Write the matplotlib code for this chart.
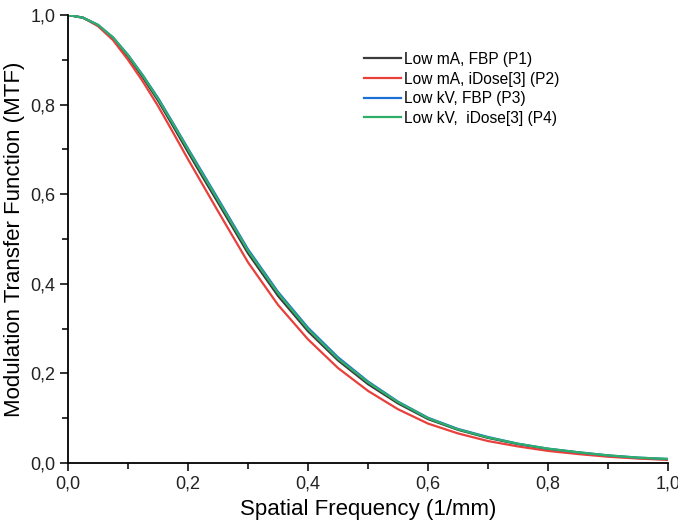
import matplotlib
matplotlib.use('Agg')
import matplotlib.pyplot as plt
from matplotlib.ticker import FuncFormatter, MultipleLocator

plt.rcParams['font.family'] = ['Liberation Sans', 'DejaVu Sans']

# spatial frequency (1/mm)
freq = [0.0, 0.025, 0.05, 0.075, 0.1, 0.125, 0.15, 0.175, 0.2, 0.225, 0.25, 0.3, 0.35, 0.4, 0.45, 0.5,
        0.55, 0.6, 0.65, 0.7, 0.75, 0.8, 0.85, 0.9, 0.95, 1.0]

# MTF values
mtf_p1 = [1.0, 0.994, 0.977, 0.948, 0.907, 0.860, 0.809, 0.752, 0.694, 0.637, 0.581, 0.468, 0.373, 0.294, 0.229, 0.176,
          0.133, 0.098, 0.074, 0.056, 0.042, 0.031, 0.023, 0.016, 0.011, 0.008]
mtf_p2 = [1.0, 0.994, 0.975, 0.944, 0.900, 0.851, 0.797, 0.738, 0.678, 0.620, 0.562, 0.448, 0.353, 0.276, 0.212, 0.161,
          0.120, 0.088, 0.066, 0.049, 0.037, 0.027, 0.020, 0.014, 0.010, 0.007]
mtf_p3 = [1.0, 0.994, 0.978, 0.950, 0.911, 0.865, 0.815, 0.759, 0.702, 0.646, 0.590, 0.477, 0.382, 0.302, 0.236, 0.182,
          0.137, 0.101, 0.076, 0.058, 0.043, 0.032, 0.024, 0.017, 0.012, 0.009]
mtf_p4 = [1.0, 0.994, 0.978, 0.950, 0.910, 0.864, 0.813, 0.757, 0.700, 0.643, 0.587, 0.474, 0.379, 0.299, 0.233, 0.180,
          0.136, 0.100, 0.075, 0.057, 0.043, 0.032, 0.024, 0.017, 0.012, 0.009]

labels = ['Low mA, FBP (P1)', 'Low mA, iDose[3] (P2)', 'Low kV, FBP (P3)', 'Low kV,  iDose[3] (P4)']
colors = ['#3c3c3c', '#e8403a', '#1c6fd4', '#2fae6a']

fig = plt.figure(figsize=(6.78, 5.22), dpi=100)
ax = fig.add_axes([68/678, 59/522, 600/678, 448/522])

for ys, lab, col in zip([mtf_p1, mtf_p2, mtf_p3, mtf_p4], labels, colors):
    ax.plot(freq, ys, color=col, lw=1.6, label=lab)

ax.set_xlim(0, 1)
ax.set_ylim(0, 1)
for s in ['top', 'right']:
    ax.spines[s].set_visible(False)
for s in ['left', 'bottom']:
    ax.spines[s].set_linewidth(1.3)

comma = FuncFormatter(lambda v, p: ('%.1f' % v).replace('.', ','))
ax.xaxis.set_major_locator(MultipleLocator(0.2))
ax.xaxis.set_minor_locator(MultipleLocator(0.1))
ax.yaxis.set_major_locator(MultipleLocator(0.2))
ax.yaxis.set_minor_locator(MultipleLocator(0.1))
ax.xaxis.set_major_formatter(comma)
ax.yaxis.set_major_formatter(comma)
ax.tick_params(which='major', direction='out', length=6, width=1.3, labelsize=13, colors='#222222', pad=3)
ax.tick_params(which='minor', direction='out', length=4, width=1.3, colors='#222222')

ax.set_xlabel('Spatial Frequency (1/mm)', fontsize=16, labelpad=5)
ax.set_ylabel('Modulation Transfer Function (MTF)', fontsize=16, labelpad=4)

ax.legend(loc='upper left', bbox_to_anchor=(0.48, 0.935), frameon=False, fontsize=11.2,
          handlelength=2.4, labelspacing=0.3, handletextpad=0.2, borderpad=0)

fig.savefig('out.png', dpi=100)
